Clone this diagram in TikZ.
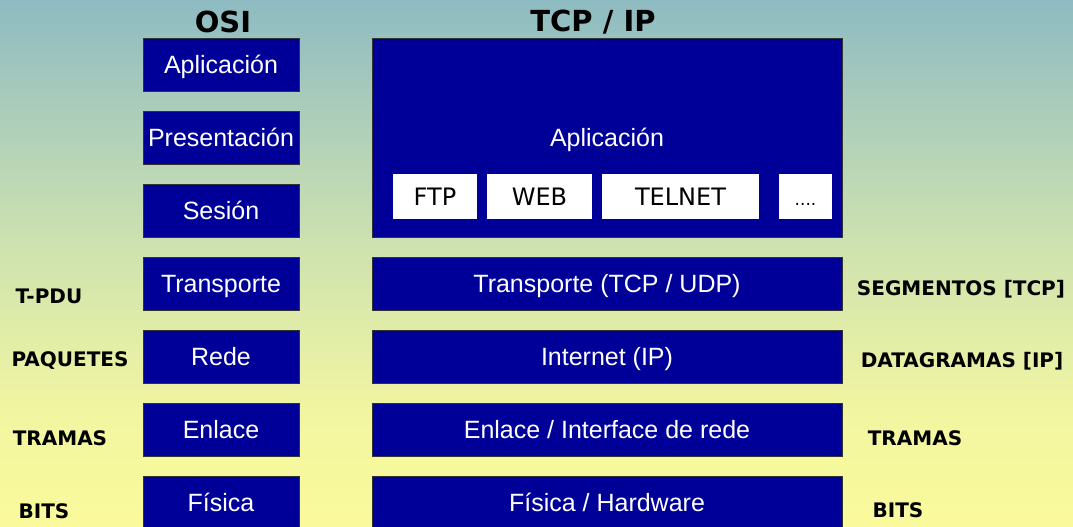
\documentclass[tikz,border=0pt]{standalone}
\usepackage{fontspec}
\setmainfont{Liberation Sans}
\newfontfamily\labfont{DejaVu Sans}
\definecolor{bgA}{HTML}{8EBBC2}
\definecolor{bgB}{HTML}{CFE3AF}
\definecolor{bgC}{HTML}{F3F6A0}
\definecolor{bgD}{HTML}{FAFA9C}
\definecolor{boxblue}{HTML}{000099}
\tikzset{
  layer/.style={draw=black!80, line width=0.8pt, fill=boxblue, text=white,
    font=\fontsize{25}{30}\selectfont, inner sep=0pt,
    text height=17.9pt, text depth=0pt},
  osibox/.style={layer, minimum width=156pt, minimum height=53pt},
  tcpbox/.style={layer, minimum width=470pt, minimum height=53pt},
  protobox/.style={fill=white, draw=none, text=black, inner sep=0pt,
    font=\labfont\fontsize{24}{28}\selectfont, minimum height=45pt,
    text height=17.5pt, text depth=0pt},
  pdu/.style={anchor=base, text=black, inner sep=0pt,
    font=\labfont\bfseries\fontsize{20}{24}\selectfont},
  title/.style={anchor=base, text=black, inner sep=0pt,
    font=\labfont\bfseries\fontsize{29}{33}\selectfont}
}
\begin{document}
\begin{tikzpicture}[x=1pt, y=-1pt]
\useasboundingbox (0,0) rectangle (1073,527);
% background
\fill[top color=bgA, bottom color=bgB] (0,0) rectangle (1073,250);
\fill[top color=bgB, bottom color=bgC] (0,250) rectangle (1073,420);
\fill[top color=bgC, bottom color=bgD] (0,420) rectangle (1073,527);
% titles
\node[title] (tosi) at (223,33) {OSI};
\node[title] (ttcp) at (593,32) {TCP / IP};
% OSI column
\node[osibox] (oapp) at (221,64.5) {Aplicación};
\node[osibox] (opre) at (221,137.5) {Presentación};
\node[osibox] (oses) at (221,210.5) {Sesión};
\node[osibox] (otra) at (221,283.5) {Transporte};
\node[osibox] (ored) at (221,356.5) {Rede};
\node[osibox] (oenl) at (221,429.5) {Enlace};
\node[osibox] (ofis) at (221,502.5) {Física};
% TCP/IP column
\node[layer, minimum width=470pt, minimum height=199pt] (tapp) at (607,137.5) {};
\node[text=white, inner sep=0pt, font=\fontsize{25}{30}\selectfont,
  text height=17.9pt, text depth=0pt] (tapplab) at (607,138) {Aplicación};
\node[protobox, minimum width=84pt] (ftp) at (435,196.5) {FTP};
\node[protobox, minimum width=105pt] (web) at (539.5,196.5) {WEB};
\node[protobox, minimum width=157pt] (telnet) at (680.5,196.5) {TELNET};
\node[protobox, minimum width=53pt, font=\labfont\fontsize{17}{20}\selectfont] (dots) at (805.5,196.5) {....};
\node[tcpbox] (ttra) at (607,283.5) {Transporte (TCP / UDP)};
\node[tcpbox] (tint) at (607,356.5) {Internet (IP)};
\node[tcpbox] (tenl) at (607,429.5) {Enlace / Interface de rede};
\node[tcpbox] (tfis) at (607,502.5) {Física / Hardware};
% PDU labels left
\node[pdu] (ltpdu) at (49,303) {T-PDU};
\node[pdu] (lpaq) at (70,366) {PAQUETES};
\node[pdu] (ltra) at (60,445) {TRAMAS};
\node[pdu] (lbits) at (44,518) {BITS};
% PDU labels right
\node[pdu] (rseg) at (961,295) {SEGMENTOS [TCP]};
\node[pdu] (rdat) at (962,367) {DATAGRAMAS [IP]};
\node[pdu] (rtra) at (915,445) {TRAMAS};
\node[pdu] (rbits) at (898,517) {BITS};
\end{tikzpicture}
\end{document}
